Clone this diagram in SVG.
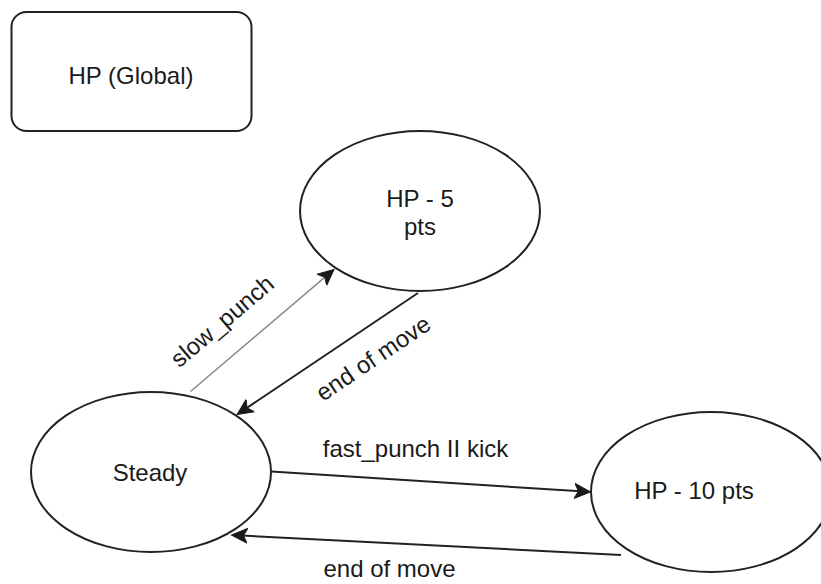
<svg xmlns="http://www.w3.org/2000/svg" width="821" height="584" viewBox="0 0 821 584">
  <style>
    .shape { fill: #ffffff; stroke: #222222; stroke-width: 2; }
    .label { font-family: "Liberation Sans", Arial, Helvetica, sans-serif; font-size: 24px; fill: #1a1a1a; text-anchor: middle; }
    .edge { fill: none; stroke: #222222; stroke-width: 2; }
    .edge-light { fill: none; stroke: #8a8a8a; stroke-width: 1.5; }
  </style>
  <defs>
    <marker id="arrow" markerUnits="userSpaceOnUse" markerWidth="20" markerHeight="20" viewBox="0 -10 20 20" refX="10" refY="0" orient="auto">
      <path d="M16,0 L0,-7.5 L4,0 L0,7.5 Z" fill="#1a1a1a" stroke="#1a1a1a" stroke-width="1" stroke-linejoin="miter"/>
    </marker>
  </defs>

  <rect width="821" height="584" fill="#ffffff"/>

  <!-- nodes -->
  <g id="node-hp-global">
    <rect class="shape" x="11.5" y="12" width="240" height="119" rx="15" ry="15"/>
    <text class="label" x="131" y="84">HP (Global)</text>
  </g>

  <g id="node-hp-5">
    <ellipse class="shape" cx="420" cy="211" rx="120" ry="80"/>
    <text class="label" x="420" y="207">HP - 5</text>
    <text class="label" x="420" y="235">pts</text>
  </g>

  <g id="node-steady">
    <ellipse class="shape" cx="151" cy="472" rx="120" ry="80"/>
    <text class="label" x="150" y="481">Steady</text>
  </g>

  <g id="node-hp-10">
    <ellipse class="shape" cx="711" cy="492" rx="120" ry="80"/>
    <text class="label" x="694" y="499">HP - 10 pts</text>
  </g>

  <!-- connectors -->
  <g id="connectors">
    <path class="edge-light" d="M190.5,391.5 L329.4,273.4" marker-end="url(#arrow)"/>
    <path class="edge" d="M418,293 L242,411.2" marker-end="url(#arrow)"/>
    <path class="edge" d="M271.5,471.5 L584.5,491.6" marker-end="url(#arrow)"/>
    <path class="edge" d="M621,555 L237.5,535.3" marker-end="url(#arrow)"/>

    <text class="label" transform="translate(222,321) rotate(-40.5)" x="0" y="8.5">slow_punch</text>
    <text class="label" transform="translate(373,358) rotate(-34)" x="0" y="8.5">end of move</text>
    <text class="label" x="415.5" y="457">fast_punch II kick</text>
    <text class="label" x="389.5" y="577">end of move</text>
  </g>
</svg>
